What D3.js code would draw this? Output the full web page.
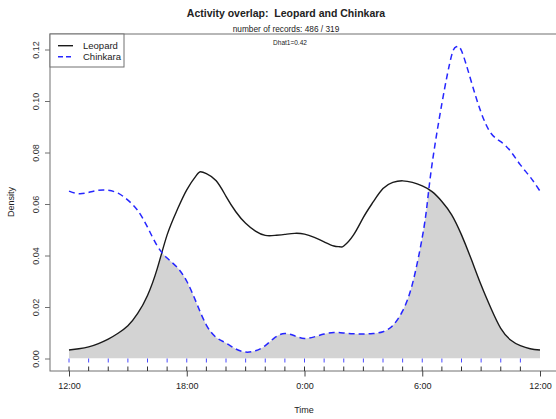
<!DOCTYPE html>
<html><head><meta charset="utf-8">
<script src="https://cdn.jsdelivr.net/npm/d3@7"></script>
<style>body{margin:0;background:#fff}svg{display:block;font-family:"Liberation Sans",Arial,sans-serif}text{white-space:pre}</style>
</head><body><svg id="c" width="556" height="419"></svg>
<script>
// hours after 12:00 (0..24)
const leopardHours = [0,0.5,1,1.5,2,2.5,3,3.5,4,4.5,5,5.5,6,6.5,6.7,7,7.5,8,8.5,9,9.5,10,10.5,11,11.5,12,12.5,13,13.5,13.8,14,14.5,15,15.5,16,16.5,17,17.5,18,18.5,19,19.5,20,20.5,21,21.5,22,22.5,23,23.5,24];
const leopardDensity = [0.0033,0.0038,0.0045,0.0058,0.0075,0.0098,0.0127,0.0175,0.0245,0.035,0.048,0.0575,0.0655,0.0712,0.0725,0.0718,0.069,0.063,0.057,0.0525,0.0495,0.0478,0.0478,0.0482,0.0486,0.0483,0.047,0.0453,0.0437,0.0434,0.0437,0.048,0.0548,0.0608,0.066,0.0684,0.069,0.0684,0.067,0.0648,0.061,0.0558,0.048,0.0385,0.0285,0.0195,0.0117,0.0072,0.005,0.0038,0.0033];
const chinkaraHours = [0,0.5,1,1.5,2,2.5,3,3.5,4,4.5,5,5.5,6,6.5,7,7.5,8,8.5,9,9.5,10,10.5,11,11.5,12,12.5,13,13.5,14,14.5,15,15.5,16,16.5,17,17.5,18,18.25,18.5,19,19.5,19.75,20,20.5,21,21.5,22,22.5,23,23.5,24];
const chinkaraDensity = [0.065,0.064,0.0645,0.0653,0.0653,0.0642,0.0615,0.0575,0.051,0.0437,0.039,0.0355,0.030,0.0215,0.013,0.0082,0.006,0.0037,0.0025,0.003,0.005,0.0082,0.0097,0.0088,0.0078,0.0084,0.0095,0.0101,0.0099,0.0096,0.0095,0.0097,0.0104,0.0128,0.0185,0.029,0.047,0.060,0.0755,0.099,0.1178,0.1211,0.1195,0.1075,0.0955,0.0875,0.0842,0.0805,0.0752,0.0705,0.065];
const rugLeopard = d3.range(0,24);
const rugChinkara = d3.range(0,24);
const xTickValues = [0,6,12,18,24];
const xTickLabels = ["12:00","18:00","0:00","6:00","12:00"];
const yTickValues = [0,0.02,0.04,0.06,0.08,0.10,0.12];
const seriesNames = ["Leopard","Chinkara"];
const titleText = "Activity overlap:  Leopard and Chinkara";
const subtitleText = "number of records: 486 / 319";
const dhatText = "Dhat1=0.42";

const svg = d3.select("#c");
const x = d3.scaleLinear().domain([0,24]).range([69,540]);
const y = d3.scaleLinear().domain([0,0.12]).range([358.5,49.5]);
const box = {l:50,t:34,r:600,b:371};
const axisCol = "#707070";

const L = leopardHours.map((h,i)=>[h,leopardDensity[i]]);
const C = chinkaraHours.map((h,i)=>[h,chinkaraDensity[i]]);
const curve = d3.curveNatural;
const line = d3.line().x(d=>x(d[0])).y(d=>y(d[1])).curve(curve);
const area = d3.area().x(d=>x(d[0])).y0(y(0)).y1(d=>y(d[1])).curve(curve);

svg.append("clipPath").attr("id","cc").append("path").attr("d",area(C));
svg.append("path").attr("d",area(L)).attr("fill","#d3d3d3").attr("clip-path","url(#cc)");

svg.append("path").attr("d",line(L)).attr("fill","none").attr("stroke","#1a1a1a").attr("stroke-width",1.4);
svg.append("path").attr("d",line(C)).attr("fill","none").attr("stroke","#2626ff").attr("stroke-width",1.5).attr("stroke-dasharray","6,4");

// box
svg.append("rect").attr("x",box.l).attr("y",box.t).attr("width",box.r-box.l).attr("height",box.b-box.t)
  .attr("fill","none").attr("stroke",axisCol).attr("stroke-width",1);

// rugs
svg.append("g").selectAll("line").data(rugChinkara).join("line")
  .attr("x1",d=>x(d)).attr("x2",d=>x(d)).attr("y1",358.5).attr("y2",362.5)
  .attr("stroke","#4a4aff").attr("stroke-width",1);
svg.append("g").selectAll("line").data(rugLeopard).join("line")
  .attr("x1",d=>x(d)).attr("x2",d=>x(d)).attr("y1",366.5).attr("y2",371)
  .attr("stroke","#333").attr("stroke-width",1);

// x axis
const xa = svg.append("g").attr("transform",`translate(0,${box.b})`)
  .call(d3.axisBottom(x).tickValues(xTickValues).tickFormat((d,i)=>xTickLabels[i]).tickSize(5.5).tickPadding(6));
xa.select(".domain").remove();
xa.selectAll("line").attr("stroke","#444");
xa.selectAll("text").attr("font-size","9px").attr("fill","#222").attr("font-family","Liberation Sans, Arial, sans-serif");

// y axis
const ya = svg.append("g").attr("transform",`translate(${box.l},0)`)
  .call(d3.axisLeft(y).tickValues(yTickValues).tickFormat(d3.format(".2f")).tickSize(5).tickPadding(0));
ya.select(".domain").remove();
ya.selectAll("line").attr("stroke",axisCol);
ya.selectAll("text").attr("font-size","9px").attr("fill","#333").attr("font-family","Liberation Sans, Arial, sans-serif")
  .attr("text-anchor","middle").attr("dx",null).attr("dy",null).attr("x",null)
  .attr("transform","translate(-14,0) rotate(-90)").attr("dy","0.35em");

// titles
svg.append("text").attr("x",286).attr("y",17).attr("text-anchor","middle").attr("font-weight","bold").attr("font-size","10.5px").attr("fill","#222").text(titleText);
svg.append("text").attr("x",286).attr("y",32).attr("text-anchor","middle").attr("font-size","8.3px").attr("fill","#222").text(subtitleText);
svg.append("text").attr("x",290).attr("y",45).attr("text-anchor","middle").attr("font-size","6.5px").attr("fill","#222").text(dhatText);
svg.append("text").attr("x",304).attr("y",413).attr("text-anchor","middle").attr("font-size","9px").attr("fill","#222").text("Time");
svg.append("text").attr("transform","translate(14,202) rotate(-90)").attr("text-anchor","middle").attr("font-size","9px").attr("fill","#222").text("Density");

// legend
svg.append("rect").attr("x",50).attr("y",34).attr("width",74).attr("height",33).attr("fill","#fff").attr("stroke",axisCol);
const lg = svg.append("g");
seriesNames.forEach((n,i)=>{
  const yy = 45.7 + i*11;
  lg.append("line").attr("x1",58).attr("x2",73).attr("y1",yy).attr("y2",yy)
    .attr("stroke",i?"#2626ff":"#1a1a1a").attr("stroke-width",i?1.5:1.4).attr("stroke-dasharray",i?"5,3":null);
  lg.append("text").attr("x",83).attr("y",yy+3.3).attr("font-size","9.5px").attr("fill","#222").text(n);
});
</script></body></html>
